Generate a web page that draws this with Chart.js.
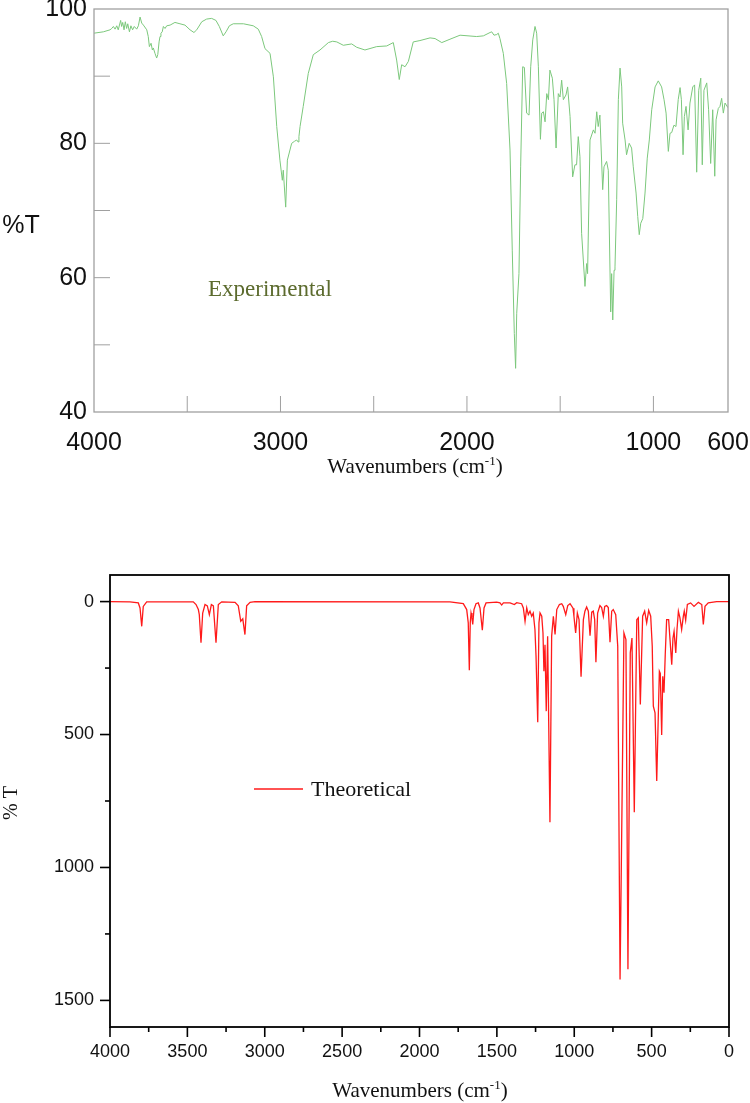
<!DOCTYPE html>
<html>
<head>
<meta charset="utf-8">
<script src="https://cdn.jsdelivr.net/npm/chart.js@4.4.1/dist/chart.umd.min.js"></script>
<style>
  body { margin: 0; background: #fff; }
  #wrap { position: relative; width: 750px; height: 1103px; }
  canvas { position: absolute; left: 0; }
  #top { top: 0; }
  #bottom { top: 550px; }
</style>
</head>
<body>
<div id="wrap">
  <canvas id="top" width="750" height="490"></canvas>
  <canvas id="bottom" width="750" height="553"></canvas>
</div>
<script>
// experimental spectrum
const expWavenumber = [4000, 3950, 3914, 3905, 3896, 3887, 3878, 3870, 3857, 3852, 3846, 3839, 3832, 3825, 3819, 3810,
  3802, 3793, 3784, 3771, 3762, 3753, 3744, 3735, 3717, 3709, 3703, 3694, 3687, 3682, 3673, 3664, 3658, 3651, 3646,
  3641, 3634, 3628, 3619, 3610, 3592, 3566, 3539, 3512, 3485, 3464, 3449, 3422, 3396, 3369, 3346, 3328, 3307, 3292,
  3274, 3253, 3199, 3146, 3119, 3101, 3083, 3056, 3038, 3020, 3003, 2990, 2985, 2972, 2963, 2940, 2925, 2913, 2905,
  2901, 2895, 2878, 2851, 2824, 2788, 2743, 2720, 2698, 2663, 2618, 2591, 2547, 2484, 2430, 2395, 2377, 2363, 2350,
  2332, 2314, 2288, 2252, 2198, 2171, 2135, 2091, 2037, 1948, 1912, 1876, 1867, 1855, 1840, 1832, 1823, 1805, 1787,
  1769, 1757, 1746, 1739, 1733, 1721, 1712, 1701, 1692, 1680, 1667, 1658, 1647, 1635, 1626, 1617, 1606, 1599, 1590,
  1581, 1572, 1563, 1555, 1542, 1533, 1522, 1510, 1501, 1492, 1483, 1469, 1460, 1447, 1433, 1421, 1412, 1403, 1394,
  1385, 1367, 1358, 1353, 1340, 1322, 1313, 1304, 1296, 1287, 1272, 1265, 1251, 1242, 1229, 1224, 1218, 1211, 1206,
  1197, 1188, 1179, 1170, 1165, 1152, 1144, 1130, 1117, 1108, 1093, 1084, 1076, 1068, 1057, 1045, 1033, 1022, 1009,
  991, 974, 956, 943, 932, 920, 911, 902, 890, 879, 867, 857, 850, 841, 834, 825, 814, 804, 789, 779, 768, 757, 746,
  738, 729, 714, 704, 693, 682, 671, 664, 652, 643, 634, 625, 616, 600];
const expTransmittance = [96.4, 96.6, 96.9, 97.1, 97.4, 97.0, 97.5, 96.9, 98.3, 97.4, 98.0, 96.9, 98.1, 97.1, 97.8, 96.6,
  97.5, 96.9, 97.4, 97.0, 97.5, 98.8, 97.9, 97.6, 96.9, 95.9, 94.4, 94.9, 93.9, 94.2, 93.4, 92.7, 93.2, 95.1, 95.9,
  96.4, 96.6, 97.4, 97.1, 97.5, 97.6, 98.0, 97.8, 97.6, 96.9, 96.5, 96.9, 98.1, 98.5, 98.6, 98.3, 97.4, 96.0, 96.6,
  97.5, 97.8, 97.8, 97.5, 97.0, 95.9, 94.1, 93.4, 89.9, 82.5, 77.5, 74.5, 76.0, 70.5, 77.5, 80.0, 80.3, 80.5, 80.2,
  81.0, 82.5, 85.5, 90.4, 93.2, 93.9, 95.0, 95.2, 95.1, 94.6, 94.8, 94.3, 93.9, 94.4, 94.5, 95.0, 92.4, 89.5, 91.7,
  91.4, 92.2, 95.1, 95.3, 95.7, 95.6, 95.0, 95.5, 96.1, 95.9, 96.0, 96.5, 96.6, 96.1, 96.2, 96.4, 95.6, 93.4, 88.9,
  79.0, 64.1, 51.7, 46.5, 54.7, 60.6, 76.5, 91.4, 91.3, 84.5, 84.2, 91.4, 95.4, 97.4, 96.4, 91.4, 80.6, 84.5, 84.7,
  83.2, 87.4, 86.5, 90.9, 89.7, 86.5, 79.3, 87.4, 86.9, 89.4, 86.5, 87.2, 88.4, 84.0, 75.0, 76.8, 76.8, 81.0, 78.0,
  66.6, 58.7, 62.1, 60.6, 80.5, 82.0, 81.5, 84.7, 82.5, 84.2, 73.1, 76.5, 77.3, 76.0, 54.9, 60.6, 53.7, 61.1, 61.6,
  71.6, 86.5, 91.2, 88.4, 83.0, 80.5, 78.3, 80.0, 79.3, 76.5, 72.6, 69.1, 66.4, 68.1, 68.8, 72.6, 77.8, 80.5, 85.0,
  88.4, 89.3, 88.4, 86.5, 84.5, 78.8, 81.5, 81.6, 82.7, 82.5, 86.5, 88.3, 86.5, 78.3, 84.0, 85.5, 82.0, 86.0, 88.4, 88.7, 75.7, 87.9, 89.7,
  76.8, 87.9, 89.0, 85.0, 77.0, 85.0, 75.1, 83.5, 85.2, 85.5, 86.7, 84.5, 86.0, 85.3];

// theoretical spectrum
const theoWavenumber = [4000, 3871, 3817, 3806, 3795, 3785, 3763, 3462, 3444, 3429, 3423, 3412, 3401, 3386, 3371, 3358,
  3345, 3332, 3315, 3300, 3278, 3192, 3171, 3155, 3142, 3128, 3117, 3095, 3063, 1803, 1717, 1695, 1685, 1678, 1672,
  1667, 1661, 1656, 1648, 1635, 1620, 1609, 1594, 1583, 1570, 1501, 1480, 1469, 1458, 1415, 1387, 1372, 1340, 1329,
  1318, 1307, 1297, 1286, 1275, 1265, 1254, 1247, 1236, 1228, 1221, 1210, 1202, 1196, 1189, 1181, 1172, 1157, 1146,
  1135, 1124, 1113, 1096, 1081, 1071, 1055, 1042, 1027, 1008, 1002, 991, 980, 969, 956, 941, 931, 920, 909, 898, 887,
  877, 868, 860, 849, 834, 823, 812, 803, 791, 780, 769, 758, 748, 732, 719, 704, 679, 666, 653, 638, 627, 612, 596,
  586, 573, 558, 545, 532, 519, 506, 496, 489, 478, 467, 450, 444, 435, 428, 420, 412, 403, 390, 370, 362, 355, 344,
  336, 327, 317, 306, 295, 289, 280, 269, 248, 226, 198, 176, 166, 155, 134, 80, 0];
const theoIntensity = [0, 1, 5, 24, 93, 18, 1, 1, 11, 30, 49, 155, 43, 11, 16, 49,
  11, 16, 155, 11, 1, 3, 16, 74, 65, 124, 16, 3, 0, 1, 8, 30, 80, 258, 80,
  43, 61, 86, 30, 8, 5, 24, 108, 24, 5, 2, 5, 13, 5, 5, 11, 4, 8, 24,
  74, 24, 49, 36, 55, 43, 105, 205, 454, 80, 43, 55, 118, 262, 162, 412, 130, 830, 130,
  55, 124, 30, 11, 8, 18, 49, 15, 8, 25, 55, 118, 43, 68, 283, 68, 36, 20, 36, 128, 40,
  36, 68, 228, 43, 15, 22, 55, 18, 15, 22, 153, 36, 30, 49, 168, 1421, 118, 143, 1383, 193, 137, 792, 68,
  61, 387, 55, 36, 80, 33, 55, 168, 393, 418, 675, 262, 270, 502, 281, 343, 200, 68, 68, 237, 137, 112, 193,
  105, 36, 61, 105, 55, 36, 70, 11, 5, 18, 3, 11, 86, 18, 5, 0, 0];

// axis ticks
const expXLabels = [4000, 3000, 2000, 1000, 600];
const expXMinor = [3500, 3000, 2500, 2000, 1500, 1000];
const expYLabels = [40, 60, 80, 100];
const expYMinor = [50, 60, 70, 80, 90];
const theoXLabels = [4000, 3500, 3000, 2500, 2000, 1500, 1000, 500, 0];
const theoXMinor = [3750, 3250, 2750, 2250, 1750, 1250, 750, 250];
const theoYLabels = [0, 500, 1000, 1500];
const theoYMinor = [250, 750, 1250];

function pairs(xs, ys) {
  return xs.map((x, i) => ({x: x, y: ys[i]}));
}

function drawWaveTitle(ctx, cx, cy, size) {
  const big = size + 'px "Liberation Serif"';
  const small = Math.round(size * 0.6) + 'px "Liberation Serif"';
  ctx.font = big;
  const w1 = ctx.measureText('Wavenumbers (cm').width;
  const w3 = ctx.measureText(')').width;
  ctx.font = small;
  const w2 = ctx.measureText('-1').width;
  let x = cx - (w1 + w2 + w3) / 2;
  const base = cy + size * 0.33;
  ctx.textAlign = 'left';
  ctx.textBaseline = 'alphabetic';
  ctx.font = big;
  ctx.fillText('Wavenumbers (cm', x, base);
  x += w1;
  ctx.font = small;
  ctx.fillText('-1', x, base - size * 0.4);
  x += w2;
  ctx.font = big;
  ctx.fillText(')', x, base);
}

// frame, tick marks and the free texts
function makeDecor(cfg) {
  return {
    id: 'decor' + cfg.name,
    afterDraw(chart) {
      const ctx = chart.ctx, a = chart.chartArea;
      ctx.save();
      ctx.strokeStyle = cfg.tickColor;
      cfg.ticks.forEach(t => {
        const s = chart.scales[t.axis];
        ctx.lineWidth = t.width;
        t.values.forEach(v => {
          const p = s.getPixelForValue(v);
          ctx.beginPath();
          if (t.axis === 'x') {
            ctx.moveTo(p, a.bottom);
            ctx.lineTo(p, a.bottom + t.len);
          } else {
            ctx.moveTo(a.left, p);
            ctx.lineTo(a.left - t.len, p);
          }
          ctx.stroke();
        });
      });
      ctx.strokeStyle = cfg.frameColor;
      ctx.lineWidth = cfg.frameWidth;
      ctx.strokeRect(a.left, a.top, a.right - a.left, a.bottom - a.top);
      ctx.fillStyle = '#000';
      cfg.draw(ctx);
      ctx.restore();
    }
  };
}

const topChart = new Chart(document.getElementById('top'), {
  type: 'line',
  data: {
    datasets: [{
      data: pairs(expWavenumber, expTransmittance),
      borderColor: '#7cc87c',
      borderWidth: 1,
      pointRadius: 0,
      tension: 0,
      fill: false
    }]
  },
  options: {
    responsive: false,
    animation: false,
    devicePixelRatio: 1,
    layout: { padding: { top: 9, right: 22, left: 0, bottom: 0 } },
    plugins: { legend: { display: false }, tooltip: { enabled: false } },
    scales: {
      x: {
        type: 'linear', reverse: true, min: 600, max: 4000,
        afterBuildTicks: s => { s.ticks = expXLabels.map(v => ({value: v})); },
        afterFit: s => { s.height = 78; s.paddingLeft = 0; s.paddingRight = 0; },
        grid: { display: false, drawTicks: false },
        border: { display: false },
        ticks: {
          autoSkip: false, maxRotation: 0, padding: 16, color: '#111',
          font: { family: 'Liberation Sans', size: 25 },
          callback: v => String(v)
        }
      },
      y: {
        type: 'linear', min: 40, max: 100,
        afterBuildTicks: s => { s.ticks = expYLabels.map(v => ({value: v})); },
        afterFit: s => { s.width = 94; s.paddingTop = 0; s.paddingBottom = 0; },
        grid: { display: false, drawTicks: false },
        border: { display: false },
        ticks: {
          padding: 7, color: '#111',
          font: { family: 'Liberation Sans', size: 25 },
          callback: v => String(v)
        }
      }
    }
  },
  plugins: [makeDecor({
    name: 'Top',
    tickColor: '#a0a0a0',
    frameColor: '#a0a0a0',
    frameWidth: 1.3,
    ticks: [
      {axis: 'x', values: expXMinor, len: -16, width: 1},
      {axis: 'y', values: expYMinor, len: -16, width: 1}
    ],
    draw: ctx => {
      ctx.fillStyle = '#111';
      ctx.font = '25px "Liberation Sans"';
      ctx.textAlign = 'center';
      ctx.textBaseline = 'middle';
      ctx.fillText('%T', 21, 226);
      ctx.fillStyle = '#5c6b2e';
      ctx.font = '23px "Liberation Serif"';
      ctx.textAlign = 'left';
      ctx.fillText('Experimental', 208, 290);
      ctx.fillStyle = '#111';
      drawWaveTitle(ctx, 415, 466, 21);
    }
  })]
});

const bottomChart = new Chart(document.getElementById('bottom'), {
  type: 'line',
  data: {
    datasets: [{
      data: pairs(theoWavenumber, theoIntensity),
      borderColor: '#ff1a1a',
      borderWidth: 1.3,
      pointRadius: 0,
      tension: 0,
      fill: false
    }]
  },
  options: {
    responsive: false,
    animation: false,
    devicePixelRatio: 1,
    layout: { padding: { top: 25, right: 21, left: 0, bottom: 0 } },
    plugins: { legend: { display: false }, tooltip: { enabled: false } },
    scales: {
      x: {
        type: 'linear', reverse: true, min: 0, max: 4000,
        afterBuildTicks: s => { s.ticks = theoXLabels.map(v => ({value: v})); },
        afterFit: s => { s.height = 76; s.paddingLeft = 0; s.paddingRight = 0; },
        grid: { display: false, drawTicks: false },
        border: { display: false },
        ticks: {
          autoSkip: false, maxRotation: 0, padding: 14, color: '#111',
          font: { family: 'Liberation Sans', size: 18 },
          callback: v => String(v)
        }
      },
      y: {
        type: 'linear', reverse: true, min: -100, max: 1600,
        afterBuildTicks: s => { s.ticks = theoYLabels.map(v => ({value: v})); },
        afterFit: s => { s.width = 110; s.paddingTop = 0; s.paddingBottom = 0; },
        grid: { display: false, drawTicks: false },
        border: { display: false },
        ticks: {
          padding: 16, color: '#111',
          font: { family: 'Liberation Sans', size: 18 },
          callback: v => String(v)
        }
      }
    }
  },
  plugins: [makeDecor({
    name: 'Bottom',
    tickColor: '#000',
    frameColor: '#000',
    frameWidth: 1.8,
    ticks: [
      {axis: 'x', values: theoXLabels, len: 10, width: 1.6},
      {axis: 'x', values: theoXMinor, len: 5, width: 1.6},
      {axis: 'y', values: theoYLabels, len: 10, width: 1.6},
      {axis: 'y', values: theoYMinor, len: 5, width: 1.6}
    ],
    draw: ctx => {
      ctx.fillStyle = '#111';
      ctx.save();
      ctx.translate(12, 253);
      ctx.rotate(-Math.PI / 2);
      ctx.font = '20px "Liberation Serif"';
      ctx.textAlign = 'center';
      ctx.textBaseline = 'middle';
      ctx.fillText('% T', 0, 0);
      ctx.restore();
      ctx.strokeStyle = '#ff1a1a';
      ctx.lineWidth = 1.3;
      ctx.beginPath();
      ctx.moveTo(254, 239);
      ctx.lineTo(303, 239);
      ctx.stroke();
      ctx.font = '22px "Liberation Serif"';
      ctx.textAlign = 'left';
      ctx.textBaseline = 'middle';
      ctx.fillText('Theoretical', 311, 240);
      drawWaveTitle(ctx, 420, 540, 21);
    }
  })]
});
</script>
</body>
</html>
